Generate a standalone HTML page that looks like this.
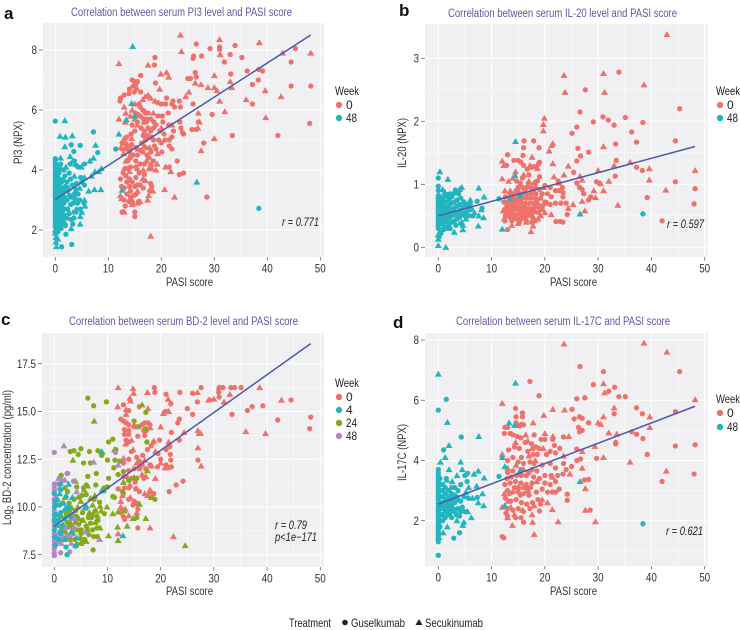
<!DOCTYPE html>
<html>
<head>
<meta charset="utf-8">
<title>Correlation between serum biomarkers and PASI score</title>
<style>
html,body{margin:0;padding:0;background:#fff;}
svg{display:block;filter:blur(0.3px);}
text{font-family:"Liberation Sans",sans-serif;fill:#333;}
.ttl{fill:#5b5aa6;font-size:11.5px;}
.axt{fill:#333;font-size:12px;}
.let{fill:#111;font-size:17px;font-weight:bold;}
.leg{fill:#222;font-size:12px;}
.stat{fill:#222;font-size:11.5px;font-style:italic;}
</style>
</head>
<body>
<svg id="fig" width="740" height="630" viewBox="0 0 740 630" xmlns="http://www.w3.org/2000/svg">
<text class="let" x="4" y="19">a</text>
<text class="let" x="399" y="16">b</text>
<text class="let" x="1" y="325">c</text>
<text class="let" x="393" y="328">d</text>

<text class="ttl" x="71" y="16" textLength="221" lengthAdjust="spacingAndGlyphs">Correlation between serum PI3 level and PASI score</text>
<text class="ttl" x="448" y="17" textLength="229" lengthAdjust="spacingAndGlyphs">Correlation between serum IL-20 level and PASI score</text>
<text class="ttl" x="69" y="325" textLength="229" lengthAdjust="spacingAndGlyphs">Correlation between serum BD-2 level and PASI score</text>
<text class="ttl" x="456" y="325" textLength="214" lengthAdjust="spacingAndGlyphs">Correlation between serum IL-17C and PASI score</text>

<text class="axt" x="166" y="286" textLength="47" lengthAdjust="spacingAndGlyphs">PASI score</text>
<text class="axt" x="550" y="286" textLength="47" lengthAdjust="spacingAndGlyphs">PASI score</text>
<text class="axt" x="166" y="595" textLength="47" lengthAdjust="spacingAndGlyphs">PASI score</text>
<text class="axt" x="550" y="595" textLength="47" lengthAdjust="spacingAndGlyphs">PASI score</text>

<text class="axt" transform="translate(22,164) rotate(-90)" textLength="43" lengthAdjust="spacingAndGlyphs">PI3 (NPX)</text>
<text class="axt" transform="translate(406,168) rotate(-90)" textLength="50" lengthAdjust="spacingAndGlyphs">IL-20 (NPX)</text>
<text class="axt" transform="translate(11,525) rotate(-90)" textLength="135" lengthAdjust="spacingAndGlyphs">Log<tspan font-size="8" dy="2">2</tspan><tspan dy="-2"> BD-2 concentration (pg/ml)</tspan></text>
<text class="axt" transform="translate(406,481) rotate(-90)" textLength="57" lengthAdjust="spacingAndGlyphs">IL-17C (NPX)</text>

<text class="stat" x="282" y="226" textLength="37" lengthAdjust="spacingAndGlyphs">r = 0.771</text>
<text class="stat" x="667" y="228" textLength="37" lengthAdjust="spacingAndGlyphs">r = 0.597</text>
<text class="stat" x="275" y="529" textLength="32" lengthAdjust="spacingAndGlyphs">r = 0.79</text>
<text class="stat" x="275" y="541" textLength="42" lengthAdjust="spacingAndGlyphs">p&lt;1e−171</text>
<text class="stat" x="666" y="535" textLength="37" lengthAdjust="spacingAndGlyphs">r = 0.621</text>

<text class="leg" x="335" y="95" textLength="24" lengthAdjust="spacingAndGlyphs">Week</text>
<circle cx="339" cy="105" r="3.2" fill="#EF716B"/>
<text class="leg" x="346" y="109">0</text>
<circle cx="339" cy="118" r="3.2" fill="#22B5C0"/>
<text class="leg" x="346" y="122" textLength="11" lengthAdjust="spacingAndGlyphs">48</text>

<text class="leg" x="716" y="95" textLength="24" lengthAdjust="spacingAndGlyphs">Week</text>
<circle cx="720" cy="105" r="3.2" fill="#EF716B"/>
<text class="leg" x="727" y="109">0</text>
<circle cx="720" cy="118" r="3.2" fill="#22B5C0"/>
<text class="leg" x="727" y="122" textLength="11" lengthAdjust="spacingAndGlyphs">48</text>

<text class="leg" x="335" y="387" textLength="24" lengthAdjust="spacingAndGlyphs">Week</text>
<circle cx="339" cy="397" r="3.2" fill="#EF716B"/>
<text class="leg" x="346" y="401">0</text>
<circle cx="339" cy="410" r="3.2" fill="#22B5C0"/>
<text class="leg" x="346" y="414">4</text>
<circle cx="339" cy="423" r="3.2" fill="#84A91C"/>
<text class="leg" x="346" y="427" textLength="11" lengthAdjust="spacingAndGlyphs">24</text>
<circle cx="339" cy="436" r="3.2" fill="#B488C4"/>
<text class="leg" x="346" y="440" textLength="11" lengthAdjust="spacingAndGlyphs">48</text>

<text class="leg" x="716" y="403" textLength="24" lengthAdjust="spacingAndGlyphs">Week</text>
<circle cx="720" cy="413" r="3.2" fill="#EF716B"/>
<text class="leg" x="727" y="417">0</text>
<circle cx="720" cy="427" r="3.2" fill="#22B5C0"/>
<text class="leg" x="727" y="431" textLength="11" lengthAdjust="spacingAndGlyphs">48</text>

<text class="leg" x="289" y="627" textLength="42" lengthAdjust="spacingAndGlyphs">Treatment</text>
<circle cx="345" cy="622.5" r="2.8" fill="#222"/>
<text class="leg" x="351" y="627" textLength="54" lengthAdjust="spacingAndGlyphs">Guselkumab</text>
<polygon points="419,619 415.5,625 422.5,625" fill="#222"/>
<text class="leg" x="425" y="627" textLength="58" lengthAdjust="spacingAndGlyphs">Secukinumab</text>
</svg>
<script>
const xTicks=[0,10,20,30,40,50];
const xMinor=[5,15,25,35,45];
const aYTicks=[2,4,6,8];
const aYMinor=[1,3,5,7];
const bYTicks=[0,1,2,3];
const bYMinor=[0.5,1.5,2.5];
const cYTicks=[7.5,10,12.5,15,17.5];
const cYTickLabels=["7.5","10.0","12.5","15.0","17.5"];
const cYMinor=[8.75,11.25,13.75,16.25];
const dYTicks=[2,4,6,8];
const dYMinor=[1,3,5,7];

const aFitX=[0,48.2];
const aFitY=[3.02,8.5];
const bFitX=[0,48.2];
const bFitY=[0.5,1.6];
const cFitX=[0,48.2];
const cFitY=[9,18.55];
const dFitX=[0,48.2];
const dFitY=[2.55,5.8];

const aWeek0Circle=[[26.6,8.2],[29.2,8.05],[31,8.1],[31,8.02],[33.9,8.15],[45.3,8.05],[33,7.85],[27.6,7.8],[35.2,7.75],[26,7.72],[26.1,7.8],[18.8,7.75],[31.9,7.6],[44.5,7.6],[18.7,7.5],[36.2,7.3],[38.4,7.35],[39.1,7.3],[26.4,7.25],[33.1,7.2],[25,7.05],[25.5,7.05],[26.6,7.1],[38.3,7],[37.2,6.85],[44.5,6.8],[48.2,6.8],[16.1,7.15],[14.5,7],[15,6.95],[15.5,6.95],[15.2,6.85],[18.9,6.9],[14.7,6.8],[14,6.7],[13.9,6.55],[16.1,6.6],[13,6.5],[12.3,6.4],[12.2,6.3],[37.2,6.2],[26,6.2],[23.4,6.3],[29.6,5.85],[48,5.55],[42,5.15],[33.4,5.15],[28,4.9],[16,6.1],[16.5,6],[17,5.9],[17.5,5.9],[16,5.8],[16.6,5.7],[17.2,5.6],[15.5,5.6],[14.5,5.5],[16.2,5.4],[16.8,5.3],[17.5,5.4],[18,5.3],[18.5,5.4],[19,5.5],[19.7,5.3],[20.3,5.6],[21.4,5.5],[21.3,5.9],[20.8,6.2],[20,6.2],[19.3,6.25],[21,6.4],[22,6.2],[22.2,6.3],[22.5,6.1],[23.6,6.1],[23.5,5.6],[22.3,5.3],[22,5.1],[21.5,4.8],[22,4.7],[21.5,5],[20,4.9],[20.7,5],[19.5,5],[18.5,5],[17.7,5.1],[17,5],[16.3,4.9],[15,5.3],[14.3,5.2],[13.5,5.1],[13,4.9],[12.6,4.7],[12.6,4.9],[13.4,4.7],[14,4.6],[14.7,4.5],[15.2,4.3],[15.5,4.5],[16.5,4.6],[17.3,4.5],[18,4.6],[19,4.7],[18.5,4.3],[17.7,4.4],[16.8,4.2],[16,4.2],[15.2,4.1],[14.2,4.1],[13.5,4.05],[12.8,3.9],[13.3,3.8],[14,3.7],[14.5,3.6],[13.5,3.6],[12.3,3.7],[12.5,3.45],[13,3.4],[14,3.45],[15,3.45],[15.5,3.5],[16,3.5],[16.6,3.4],[17.8,3.3],[18,3.55],[18.2,3.45],[15.3,3.2],[14.8,3.15],[14.2,3.1],[13.5,3.2],[13,3],[13.2,2.8],[14.6,2.9],[15.7,2.95],[15,2.6],[15,2.45],[12.8,2.6],[12.6,2.6],[21.5,4.1],[23.4,3.85],[24.2,3.9],[23,4.3],[28.6,3.1],[23.7,5.4],[24,5.25],[24.2,5.2],[25.8,5.35],[26.6,5.35],[27,5.6],[20.5,5.2],[15.3,6.7],[14.9,6.6],[15.8,6.2],[15.1,5.9],[15.6,5.85],[16.8,5.95],[17.3,5.7],[18,5.7],[18.6,5.6],[19.4,5.8],[20.2,5.8],[16.6,5.15],[17.4,5.15],[18.2,5.1],[14.4,4.85],[15.2,4.75],[16.1,4.65],[17,4.75],[18.7,4.8],[20.1,4.6],[14.1,4.4],[13.7,4.3],[15.8,3.9],[16.8,3.85],[14.2,3.3],[13.9,2.95],[15.2,3.75]];
const aWeek0Tri=[[23.6,8.5],[31,8.35],[38.5,8.25],[23.8,7.95],[42.9,7.9],[48.2,7.9],[31.1,7.85],[12,7.55],[17.5,7.5],[19.9,7.2],[21,7.25],[21.4,7.1],[30,7.15],[33,6.95],[33.3,6.75],[27.5,6.85],[28.8,6.75],[30,6.75],[30.5,6.65],[26.4,6.9],[25.2,6.6],[24.6,6.45],[39.6,6.65],[42.6,6.45],[36,6.35],[31,6.3],[32,5.95],[27,5.9],[19.7,6.7],[17.5,6.5],[18,6.4],[17,6.45],[18.8,6.3],[27.2,5.6],[39.7,5.75],[30,5.05],[27.5,4.65],[16.5,6.35],[15,6.2],[13,6.1],[14.5,6],[13.3,5.9],[14.2,5.8],[12,5.7],[13.2,5.6],[15,5.7],[15.5,5.5],[16.7,5.6],[18.5,5.9],[20,5.4],[22,5.5],[26.9,5.4],[13,5.05],[14.4,5.05],[13.6,4.85],[12.4,4.75],[14.2,4.75],[12.9,4.55],[14,4.45],[15.6,4.7],[16.8,4.8],[17.8,4.75],[19.3,4.55],[19.2,4.2],[18,4.2],[17.2,4.3],[15.5,4.05],[16.6,4],[17.7,4.05],[18.2,4.05],[19,4],[20.8,4.1],[21.8,3.95],[14,3.95],[13,4.05],[17,3.65],[18.4,3.3],[17.6,3.15],[20.6,3.35],[22.5,3.1],[17.4,3],[16,2.95],[14.5,3],[12.3,3.15],[12.5,3.05],[14.5,2.85],[15.6,2.9],[13,2.6],[18,1.8],[16.5,3.7],[15.5,3.3],[13.3,4.3]];
const aWeek48Circle=[[0,5.63],[7.2,5.27],[3,4.84],[4.7,4.82],[8,4.58],[3.5,4.62],[11.4,4.7],[0,4.38],[0,4.3],[0,4.2],[0,4.1],[0,4],[0,3.9],[0,3.8],[0,3.7],[0,3.6],[0,3.5],[0,3.4],[0,3.3],[0,3.2],[0,3.1],[0,3],[0,2.9],[0,2.8],[0,2.7],[0,2.6],[0,2.5],[0,2.4],[0,2.3],[0,2.2],[0,2.1],[0.3,4],[0.4,3.8],[0.3,3.6],[0.4,3.4],[0.3,3.2],[0.4,3],[0.3,2.8],[0.4,2.6],[0.3,2.4],[0.7,3.9],[0.8,3.7],[0.7,3.5],[0.8,3.3],[0.7,3.1],[0.8,2.9],[0.7,2.7],[0.8,2.5],[0.9,2.3],[1.2,3.6],[1.3,3.4],[1.2,3.2],[1.3,3],[1.2,2.8],[1.3,2.6],[1.2,2.4],[1.6,3.3],[1.7,3.1],[1.6,2.9],[1.7,2.7],[1.6,2.5],[2.2,3.6],[2.3,3.3],[2.2,3],[2.3,2.7],[2.2,2.4],[2,1.86],[1.1,2.05],[1.2,1.44],[3.1,1.52],[3,2.35],[3.5,2.4],[3.2,3.5],[3.6,3.2],[3.4,2.9],[3.9,2.6],[4,3.55],[4.3,3.2],[4.2,2.9],[4,4.15],[4.3,4.1],[3.6,4.3],[4.8,3.75],[5.5,3.5],[5.4,2.9],[5.5,4.2],[38.4,2.72],[5,3.6],[2.8,4.2],[1,4.2],[1.6,4],[2.6,3.9],[1.9,3.45],[2.7,3.15],[2.9,2.85],[2.6,2.55],[1.9,2.15],[1.4,2.2],[0.6,2.1],[0.5,1.95],[3.9,3.35],[3.7,3.05],[4.6,3],[4.7,2.7],[2.9,3.7],[1.8,3.8],[0.9,4.05],[3.3,2.2],[3.6,2.6],[0.2,1.9],[0.1,2.15]];
const aWeek48Tri=[[1.8,5.65],[0.9,5.13],[1.9,5.1],[3.2,5.14],[1.8,4.78],[7.6,4.83],[0.2,4.2],[2,4.1],[1,4.4],[2.8,4.45],[3.3,4.3],[3.8,4.2],[4.9,4.1],[6.5,4.3],[7.2,4.4],[8.7,4.05],[7.5,3.95],[8.2,3.95],[6.8,3.8],[5.5,3.75],[7.4,3.35],[8.6,3.35],[6.3,3.3],[5.5,3],[5.6,2.8],[4.7,2.45],[4.7,2.2],[3,2.05],[1.6,2.3],[0.2,1.45],[0.1,1.6],[0.1,1.75],[0,1.9],[0,2],[0.5,1.7],[0.4,2.05],[0.5,2.2],[1.1,2.25],[2.6,2.6],[3,3.1],[3.6,3.8],[2.5,3.4],[1.5,3.7],[0.5,4.05],[14.6,8.12],[12,5.2],[13.4,5.68],[14.4,6.22],[15,5.8],[12.6,3.33],[26.7,3.6],[4,2.7],[4.6,3.4],[5,2.6]];

const bWeek0Circle=[[33.9,2.78],[27.6,2.5],[26.6,2.15],[45.3,2.2],[30.9,2.07],[35.1,2.06],[31.9,2.02],[29.1,1.99],[33,1.94],[38.4,1.98],[26,1.91],[36.3,1.83],[25.1,1.81],[44.5,1.69],[37.2,1.67],[33.3,1.64],[26.2,1.57],[28.2,1.51],[26.7,1.45],[33.4,1.38],[26,1.37],[37.2,1.27],[38.3,1.22],[25.4,1.19],[33.2,1.13],[29.7,1.04],[30.2,1.02],[44.5,1.04],[48.2,0.93],[39.2,0.79],[48,0.69],[42,0.42],[26,1.02],[26.5,0.95],[27,0.92],[27.3,0.85],[28.6,0.8],[28.2,0.75],[24.2,0.52],[16.1,1.69],[17.9,1.69],[16,1.58],[18.9,1.58],[15.9,1.46],[13,1.47],[14.2,1.38],[15,1.38],[15.5,1.35],[16,1.3],[12.8,1.3],[17.5,1.27],[18,1.28],[18.8,1.32],[19,1.35],[16.7,1.24],[14.7,1.05],[15.8,1.1],[17,1.15],[19,1.12],[22.5,1.05],[23.3,0.95],[20,0.98],[21,0.95],[22,0.9],[22.7,0.9],[23.4,0.87],[19.5,0.85],[20.5,0.85],[21.2,0.8],[23.4,0.8],[24,0.7],[23,0.7],[22,0.7],[21,0.68],[20,0.72],[22.1,0.41],[22.9,0.41],[23.4,0.4],[13,0.28],[12.5,0.42],[12.6,0.5],[13.4,0.48],[14,0.45],[14.7,0.45],[15.5,0.45],[16.5,0.42],[17.5,0.4],[18.1,0.42],[12.4,0.6],[13.2,0.6],[14,0.6],[14.8,0.6],[15.6,0.58],[16.4,0.58],[17.2,0.56],[18,0.56],[18.8,0.55],[12.3,0.72],[13.1,0.72],[13.9,0.72],[14.7,0.72],[15.5,0.72],[16.3,0.7],[17.1,0.7],[17.9,0.7],[18.7,0.68],[19.5,0.6],[13.5,0.85],[14.3,0.85],[15.1,0.85],[15.9,0.85],[16.7,0.85],[17.5,0.85],[18.3,0.85],[19,0.92],[15,0.95],[15.8,0.95],[16.6,0.95],[17.4,0.95],[18.2,0.95],[12.7,0.52],[13.5,0.55],[14.3,0.52],[15.1,0.52],[15.9,0.52],[16.7,0.5],[17.5,0.5],[18.3,0.65],[12.9,0.65],[13.7,0.65],[14.5,0.65],[15.3,0.65],[16.1,0.65],[16.9,0.62],[17.7,0.62],[18.5,0.75],[19.2,0.78],[12.6,0.8],[13.4,0.78],[14.2,0.78],[15,0.78],[15.8,0.78],[16.6,0.78],[17.4,0.78],[18.2,0.78],[19.6,0.66],[19,0.62],[17.8,0.9],[16.2,0.9],[14.6,0.9],[16.9,1.02],[18.6,1.05],[15.4,1.02],[12.9,0.58],[13.8,0.42],[15.2,0.4],[16.2,0.47],[17.8,0.46]];
const bWeek0Tri=[[23.6,2.73],[31,2.76],[23.8,2.46],[31.2,2.46],[38.6,2.58],[42.9,3.38],[19.9,2.05],[19.7,1.95],[19.7,1.85],[21.5,1.65],[21.3,1.62],[20.8,1.53],[31,1.6],[17.6,1.43],[21.5,1.33],[24.4,1.29],[12,1.37],[12.3,1.3],[48.2,1.22],[39.6,1.25],[36,1.35],[33,1.3],[30,1.22],[21.7,1.12],[23.6,1.15],[26.6,1.13],[12,1.09],[13.2,1.05],[32,1.05],[39.6,1.07],[30.5,1.01],[27,1.07],[29.2,0.9],[31,0.9],[42.7,0.91],[27,0.73],[29.5,0.79],[27.5,0.58],[33.7,0.67],[25.3,0.68],[17.4,0.25],[17.8,0.34],[18,0.43],[21.2,0.52],[22.7,1.02],[16,1.15],[14.5,1.2],[13.5,0.9],[12.5,0.9],[17,1.05],[18,1.03],[19.8,0.95],[16.5,0.4],[15,0.38],[13.8,0.35],[19.2,0.5],[20,0.55],[24.4,0.62],[18.7,0.45],[17.2,1.3],[18.6,1.25],[14,1.1],[15.2,0.88],[20.5,0.7],[12.2,0.58],[12.4,0.46],[13,0.7],[14,0.7],[15,0.6],[16,0.6],[17,0.6],[18,0.6]];
const bWeek48Circle=[[0,1.1],[0,0.97],[0,0.9],[0,0.82],[0,0.78],[0,0.74],[0,0.7],[0,0.66],[0,0.62],[0,0.58],[0,0.54],[0,0.5],[0,0.46],[0,0.42],[0,0.38],[0,0.34],[0,0.3],[0.3,0.8],[0.3,0.74],[0.3,0.68],[0.3,0.62],[0.3,0.56],[0.3,0.5],[0.3,0.44],[0.3,0.38],[0.7,0.78],[0.7,0.7],[0.7,0.62],[0.7,0.54],[0.7,0.46],[0.7,0.38],[1.1,0.8],[1.1,0.72],[1.1,0.64],[1.1,0.56],[1.1,0.48],[1.1,0.4],[1.5,0.82],[1.5,0.72],[1.5,0.62],[1.5,0.52],[1.5,0.42],[1.5,0.32],[2,0.76],[2,0.66],[2,0.56],[2,0.46],[2,0.36],[2.5,0.8],[2.5,0.7],[2.5,0.6],[2.5,0.5],[2.5,0.4],[3,0.72],[3,0.62],[3,0.52],[3,0.42],[3.5,0.75],[3.5,0.65],[3.5,0.55],[3.5,0.45],[4,0.68],[4,0.58],[4,0.48],[4.5,0.62],[4.5,0.52],[5,0.65],[5,0.55],[5.5,0.68],[5.5,0.58],[7.3,0.73],[8.2,0.62],[11.4,0.77],[15.4,0.82],[38.4,0.53],[3.2,0.91],[6.2,0.6],[6.5,0.5],[4.2,0.78],[4.8,0.72],[3.8,0.85],[2.8,0.85],[1.9,0.84],[1,0.28],[0.5,0.22],[0.1,0.16],[2.2,0.3],[3.3,0.35],[4.2,0.38],[5.2,0.48],[5.8,0.5],[6,0.68]];
const bWeek48Tri=[[14.5,1.68],[26.6,0.53],[13.5,0.78],[14.4,1.14],[12,0.29],[0.3,1.2],[1.8,1.08],[7.6,0.94],[8.6,0.8],[8.5,0.47],[7.5,0.34],[0,0.03],[1.4,0],[4.4,0.95],[4,0.92],[3.3,0.87],[2.2,0.85],[1.2,0.88],[0.8,0.92],[4.6,0.28],[4.6,0.35],[3,0.24],[2.1,0.3],[0.3,0.25],[0,0.2],[0,0.13],[1,0.33],[7.6,0.5],[6.8,0.55],[6,0.75],[5.2,0.45],[4.4,0.4],[3.8,0.5],[4.8,0.72],[8.1,0.6],[2.7,0.6],[1.8,0.52],[1.2,0.62]];

const cWeek0Circle=[[18.8,16.25],[27.6,16.25],[31,16.25],[31.7,16.25],[33.2,16.25],[33.9,16.25],[35.1,16.25],[18.9,16],[23.6,16],[30.9,16],[26,15.95],[21,15.9],[31,15.75],[44.5,15.6],[29.2,15.6],[26.9,15.5],[21.9,15.4],[13,15.35],[39.2,15.3],[37.2,15.25],[16,15.25],[25,15.15],[14,15.05],[36.3,15.05],[21,15],[20.7,14.95],[26,14.85],[33.4,14.85],[48.2,14.7],[23.5,14.6],[23.2,14.4],[12.5,14.6],[42,14.55],[48,14.1],[13,14.5],[13.5,14.4],[14,14.3],[15,14.2],[15.5,14.2],[16.5,14.3],[17,14.4],[17.6,14.4],[18,14.3],[13.2,14.05],[14,14],[16.8,14],[17.3,14],[13.2,13.8],[14,13.8],[15.7,13.7],[17,13.75],[13.5,13.5],[14,13.4],[18.7,13.4],[19.8,13.5],[23.5,13.5],[22,13.9],[13,12.3],[14,12.5],[15.5,12.6],[16,12.4],[16.6,12.7],[17.5,13],[18.2,13.2],[19.5,12.8],[20,12.5],[21,12.2],[21.5,12.05],[22,12.1],[19.4,12.1],[18,12.2],[17.2,12],[16,12],[15,12],[14,11.9],[13.5,11.6],[13,11.6],[14.5,11.5],[15.5,11.5],[16.8,11.5],[21,13],[21.7,13.15],[21.8,12.75],[21.9,12.45],[27,12.45],[24.2,11.35],[22.9,11.15],[21.6,10.8],[12,10.95],[13.2,11],[14,11],[15.3,10.95],[16,10.8],[17.5,10.6],[18,10.8],[18.7,10.7],[13,10.7],[14,10.4],[15,10.3],[15.5,10.2],[14.8,10.1],[12.5,9.7],[13,9.5],[13.2,9.35],[15.7,9.9],[15.7,8.9],[12.8,9.8],[16.5,12.2],[15.2,11.3],[14.5,12.9]];
const cWeek0Tri=[[12,16.25],[14.8,16.2],[14.9,15.95],[17.5,16],[26.9,16],[38.6,16.25],[33,15.9],[31,16.25],[14.2,15.7],[21.4,15.65],[29,15.6],[30,15.65],[31.9,15.5],[42.7,15.6],[14.3,15.55],[11.9,15.25],[17.6,15.15],[13.5,15.1],[21.5,15],[20.5,14.9],[13.5,14.85],[36,13.95],[39.7,13.85],[27,14],[27.5,13.85],[27.2,13.85],[24.4,13.9],[20,14.2],[15,14.3],[18,14.15],[14.5,13.5],[13.4,13.3],[18.7,13.45],[21.5,13.4],[14.8,13],[27,13.1],[19,12.9],[13,12.55],[15.5,12.3],[16,12.1],[17,12.45],[18.3,12.15],[20,12.3],[27.6,12.15],[16.5,11.7],[17.2,11.6],[19,11.5],[20.8,12.05],[13,11.3],[14.2,11.15],[15.5,10.95],[17,10.7],[18,10.9],[12.8,10.6],[14.3,10.5],[15.2,10.2],[17.5,10.6],[18.5,10.5],[12.5,10],[13.3,9.9],[15.5,9.7],[14,9.55],[18,8.9],[12,8.6],[22.4,8.45],[12.5,10.3]];
const cWeek4Circle=[[2.4,7.5],[0.2,8],[0.8,8.3],[2.2,7.9],[4,7.95],[1.2,8.6],[0.3,9],[0.8,9.3],[1.2,9.7],[0.4,10.1],[1,10.1],[2.5,9.95],[2.8,9.95],[0,10],[0.2,10.3],[1.2,11.2],[1.2,10.9],[0,9.6],[0,9.3],[0,8.8],[0,8.4],[0,10.7],[3,9.5],[2,9.4]];
const cWeek4Tri=[[2.7,11.2],[3.4,10.5],[9,10.85],[1,10.7],[2.2,10.6],[0.6,10.4],[1.8,10.2],[6,10.05],[5.8,10],[2,9.9],[0.5,9.6],[1.6,9.1],[1.3,8.8],[4.2,8.4],[3.2,8.7],[2,8.3],[12.9,8.5],[8.9,12.9]];
const cWeek24Circle=[[6.3,15.7],[7.4,15.3],[9.8,15.5],[17.2,14.95],[15,14.5],[17.2,14.1],[15.9,14.2],[10.2,13.4],[11,13.55],[17.4,13.4],[3,12.9],[3.7,12.95],[5,13.05],[6.6,12.9],[8.2,12.95],[9,12.8],[4.5,12.75],[8.9,12.7],[5.5,12.3],[6.8,12.3],[10,12.45],[11.4,12.45],[11.6,13],[11.2,12.05],[12.3,12.4],[13,11.85],[7.9,11.75],[12,11.7],[2.5,11.75],[1.3,11.65],[6.3,11.6],[15.5,11.5],[10.2,11.5],[14,11.4],[7.8,11.15],[6,11.15],[5.5,11],[4.2,11.05],[9.4,11],[10,11.05],[2,11],[2.5,10.8],[5.2,10.6],[6,10.65],[3.7,10.4],[4.6,10.5],[11,10.55],[11.3,10.5],[12.8,10.8],[18.9,10.4],[7.5,10.4],[8.5,10.25],[2.8,10.2],[1.5,10.2],[2,9.8],[4,9.8],[5.3,9.7],[7.7,9.8],[9.4,9.65],[3.2,9.4],[4.2,9.5],[6.4,9.45],[8.2,9.3],[15.5,9.45],[2.4,9.2],[3.3,9],[4.6,9.1],[6,9],[7.2,8.8],[8,8.9],[2,8.7],[3.5,8.6],[5,8.6],[6.5,8.55],[1.7,8.3],[3,8.3],[4.3,8.05],[5.2,8.1],[7.4,8.45],[8.1,8.45],[7.3,7.75],[5,8.8],[2.3,9.6],[1.2,9.5],[1,9],[1.8,8.9],[2.9,9.75],[2.6,8.4],[3.9,8.3],[4.9,8.35],[5.7,8.3],[6.2,8.75],[4,9.2],[5.3,9.3],[6.8,9.15],[3.4,9.6],[7,9.45],[2.7,8.95],[4.4,8.8]];
const cWeek24Tri=[[16.5,15.35],[7.5,14.5],[3.5,12.45],[11.3,13],[13,11.3],[15,11.55],[17.5,11.9],[4,11.35],[5.6,10.9],[7.6,10.6],[9,10.9],[6.3,11.1],[6.8,10.45],[7.2,10.1],[5,10.3],[2,10.5],[3.3,9.95],[4.4,10],[5.8,9.95],[6.6,9.7],[7.3,9.65],[8.1,9.55],[8.8,9.8],[9.9,10],[11,9.65],[12,9.75],[13.2,9.8],[14.8,9.4],[16,10.15],[17.2,9.4],[18.2,10.5],[4.6,9.4],[5.4,9.3],[3,9.2],[2.4,8.55],[3.8,8.85],[6.1,9],[7.7,9.2],[8.6,8.9],[11.9,8.95],[13.7,9],[10.2,8.5],[12,8.25],[6,8.2],[4,8],[5,8.1],[24.6,7.98],[8.6,10.05],[9.3,10.9],[1.9,9.4]];
const cWeek48Circle=[[0,12.85],[0,11.2],[0,11],[0,10.8],[0,10.4],[0,10.2],[0,9.8],[0,9.4],[0,9.2],[0,9],[0,8.6],[0,8.2],[0,8],[0,7.8],[0,7.6],[0,7.45],[0.3,10.5],[0.3,9],[0.3,8.5],[0.7,11.2],[0.7,8.2],[1.2,7.6],[2.9,7.65],[11.5,12.85],[0.6,9.1],[1,8.7],[1.6,8.4],[2.2,8.9],[3,8.5],[3.7,8.9],[3.6,11.35],[1.4,11.4],[2.4,11.75]];
const cWeek48Tri=[[1.8,13.2],[7.4,12.35],[12,12.2],[3.2,9.6],[8.5,8.3],[2,11.4],[0.8,11.5],[1,11],[4.2,10.8],[3.8,9.4],[3.2,8.1],[5.8,8.7],[0.5,8.5],[1.3,8.1],[2.4,8.5]];

const dWeek0Circle=[[26.6,7.12],[31,6.95],[45.3,6.95],[17.2,6.62],[29.1,6.52],[33.1,6.43],[18.9,6.15],[26,6.05],[27.5,6.08],[33.9,6.12],[35.1,6.12],[32,6.3],[25.1,5.7],[14.5,5.73],[37.2,5.75],[38.3,5.55],[33,5.55],[44.5,5.62],[26.5,5.45],[27,5.4],[25.5,5.38],[28.2,5.25],[15.8,5.58],[15.8,5.45],[14.6,5.45],[14.6,5.25],[15.6,5.2],[16,5.18],[15.2,5.15],[13,5.1],[12.5,5.1],[26.3,5.1],[27,5],[26.5,4.95],[36.3,4.95],[37.2,4.87],[38.4,4.73],[33.3,4.6],[33.3,4.55],[44.5,4.48],[48.2,4.52],[39.2,4.2],[29.7,4.07],[26,4.38],[26.7,4.05],[26,4],[48,3.55],[42,3.3],[28.2,3.37],[27.4,3.35],[24.2,2.88],[24.2,2.68],[28.5,2.35],[12,1.47],[12.3,1.43],[19,2.32],[12.4,4.9],[13.5,4.9],[14,4.85],[14.8,4.8],[15.5,4.75],[18,4.85],[19.3,4.7],[20,4.7],[21.5,4.7],[23.5,4.78],[21.8,4.5],[22.8,4.4],[13.2,4.35],[14.3,4.45],[15.2,4.4],[16.8,4.3],[17.8,4.2],[18.6,4.2],[20.3,4.2],[21,4.3],[22,4.25],[13,4],[14,4.1],[15,3.95],[16,3.9],[17.2,3.95],[18,3.9],[19.5,3.85],[21,3.9],[22,3.75],[23.5,3.9],[25,3.8],[24,3.7],[13,3.6],[14,3.65],[15.5,3.7],[17,3.6],[18.5,3.65],[20,3.5],[21.2,3.5],[22.4,3.5],[23.4,3.55],[12.5,3.2],[13.5,3.25],[14.5,3.3],[15.5,3.25],[16.5,3.2],[17.6,3.25],[19,3.4],[20,3.25],[21,3.2],[22,3.3],[13,3],[14,2.95],[15,2.95],[16,2.9],[17,2.85],[18.4,2.95],[19.5,3.05],[20.5,2.95],[21.4,2.95],[22,2.95],[22.7,3.05],[12.6,2.75],[13.6,2.65],[14.6,2.7],[15.6,2.6],[16.6,2.55],[17.7,2.6],[18.7,2.7],[19.2,2.55],[13,2.4],[14,2.35],[15,2.4],[16,2.3],[17.2,2.4],[13,2.15],[14.5,2.1],[15.5,2.1],[16,1.95],[12.7,2.25],[16.5,3.5],[15.6,4.1],[14.7,3.5],[13.4,2.9],[17.6,3.7],[18.3,4.45],[15,3.1],[16,3.1],[13.7,3.45],[12.9,3.4],[14.3,3.1],[16.7,3.05],[15.4,2.85],[17.9,3.45],[16.3,4.6],[17.5,4.55],[18.9,4.4],[15.6,3.5],[17.3,3.1]];
const dWeek0Tri=[[23.6,7.87],[38.6,7.9],[42.9,7.6],[48.2,6.02],[31,6.55],[31.2,6.25],[12,5.9],[21.5,5.7],[23.7,5.68],[19.8,5.5],[33,5.75],[39.7,5.45],[31,5.45],[30,5.25],[30.5,5.2],[39.7,5.1],[17.8,5.25],[20,4.9],[24.5,4.8],[33.5,4.88],[32,4.92],[21.5,4.8],[29.4,4.47],[27,4.3],[31,4.1],[36,3.95],[27,3.75],[42.8,3.65],[27.6,3.07],[29.5,1.97],[22.5,1.97],[21.4,2.37],[27.6,2.35],[18,1.55],[13.9,1.85],[12,4.2],[14.5,4.6],[16.8,4.65],[17.6,4.4],[19.7,4.4],[23.5,4.15],[18.2,4],[16,3.7],[14.6,3.85],[13,3.75],[21.4,3.45],[24.7,3.55],[18.5,3.3],[16.8,3],[15,3.1],[12.4,2.9],[12,2.45],[13,2.1],[14.3,2.2],[15.8,2.35],[17.6,2.2],[17.7,1.95],[19.5,2.7],[18,2.5],[13.6,2.45],[13.1,2.65],[17,4.15],[16.4,4.85],[20.5,2.6]];
const dWeek48Circle=[[0,5.67],[1.5,6.03],[4.3,4.78],[1,4.35],[0,0.85],[38.4,1.9],[11.4,3.47],[2.9,1.42],[4,1.6],[7.3,2.77],[5.5,3.57],[0,3.7],[0,3.6],[0,3.5],[0,3.4],[0,3.3],[0,3.2],[0,3.1],[0,3],[0,2.9],[0,2.8],[0,2.7],[0,2.6],[0,2.5],[0,2.4],[0,2.3],[0,2.2],[0,2.1],[0,2],[0,1.9],[0,1.8],[0,1.7],[0,1.6],[0,1.5],[0,1.4],[0,1.3],[0.3,3.4],[0.3,3.2],[0.3,3],[0.3,2.8],[0.3,2.6],[0.3,2.4],[0.3,2.2],[0.3,2],[0.3,1.8],[0.8,3.2],[0.8,3],[0.8,2.8],[0.8,2.6],[0.8,2.4],[0.8,2.2],[0.8,2],[1.3,3.1],[1.3,2.9],[1.3,2.7],[1.3,2.5],[1.3,2.3],[1.3,2.1],[1.9,3],[1.9,2.8],[1.9,2.6],[1.9,2.4],[1.9,2.2],[2.5,3.1],[2.5,2.9],[2.5,2.7],[2.5,2.5],[2.5,2.3],[2.5,2.1],[3.1,3.1],[3.1,2.85],[3.1,2.6],[3.1,2.3],[3.7,3],[3.7,2.7],[3.7,2.4],[4.2,3.2],[4.2,2.65],[4.2,2.3],[4.8,2.8],[5,3.5],[5.4,3.3],[5.6,2.75],[1.5,3.4],[1.6,2.5],[2.2,2.65],[2.8,2.4],[3.4,2.2],[4,2.15],[2.2,2.25],[1.1,2.6],[0.6,2.5],[0.6,2.2],[1,2.4],[3.4,2.8],[2.8,2.75],[4.5,2.45],[5,2.3]];
const dWeek48Tri=[[0,6.87],[1.7,5.27],[14.5,6.57],[13.3,5.25],[14.3,5.17],[7.6,4.8],[2,4.5],[1.3,4.1],[0.4,3.95],[4.2,3.95],[12,4.1],[12.5,3.8],[15.3,3.65],[26.6,3.3],[7.5,3.65],[8.6,3.42],[6.7,3.55],[8.3,2.9],[7.5,2.6],[8.5,2.5],[6.2,2.1],[5.5,2.3],[12.5,2.5],[2,3.7],[4.5,3.7],[3.5,3.5],[1.6,3.35],[2.6,3.3],[7.2,3.15],[5.2,2.95],[4.8,1.95],[4.6,1.85],[3.5,2],[1.7,1.8],[0.9,1.6],[0.1,1.45],[6.4,2.75],[5.7,3.1]];

const NS='http://www.w3.org/2000/svg';
const svg=document.getElementById('fig');
const RED='#EF716B',TEAL='#22B5C0',OLIVE='#84A91C',PURPLE='#B488C4';

function mk(parent,tag,attrs){
  const el=document.createElementNS(NS,tag);
  for(const k in attrs){el.setAttribute(k,attrs[k]);}
  parent.appendChild(el);
  return el;
}
function linear(v0,p0,v1,p1){
  return function(v){return p0+(v-v0)*(p1-p0)/(v1-v0);};
}
function labelWidth(s){
  let w=0;
  for(const ch of String(s)){w+=(ch==='.')?2.6:5.5;}
  return w;
}
function drawPanel(id,box,xs,ys,yTicks,yLabels,yMinor,series,fitX,fitY){
  const g=mk(svg,'g',{});
  
  
  const bg=mk(g,'rect',{x:box.x0,y:box.y0,width:box.x1-box.x0,height:box.y1-box.y0,fill:'#f0f0f2'});
  
  
  xMinor.forEach(function(v){
    const l=mk(g,'line',{x1:xs(v),x2:xs(v),y1:box.y0,y2:box.y1,stroke:'#fff','stroke-width':0.5});
    
    
  });
  yMinor.forEach(function(v){
    const l=mk(g,'line',{x1:box.x0,x2:box.x1,y1:ys(v),y2:ys(v),stroke:'#fff','stroke-width':0.5});
    
    
  });
  xTicks.forEach(function(v){
    const l=mk(g,'line',{x1:xs(v),x2:xs(v),y1:box.y0,y2:box.y1,stroke:'#fff','stroke-width':1});
    
    
    const t=mk(g,'line',{x1:xs(v),x2:xs(v),y1:box.y1,y2:box.y1+3.5,stroke:'#555','stroke-width':0.7});
    
    
    const txt=mk(g,'text',{x:xs(v),y:box.y1+15.5,'text-anchor':'middle','font-size':12,textLength:labelWidth(v),lengthAdjust:'spacingAndGlyphs'});
    
    
    txt.textContent=String(v);
  });
  yTicks.forEach(function(v,i){
    const l=mk(g,'line',{x1:box.x0,x2:box.x1,y1:ys(v),y2:ys(v),stroke:'#fff','stroke-width':1});
    
    
    const t=mk(g,'line',{x1:box.x0-4,x2:box.x0,y1:ys(v),y2:ys(v),stroke:'#555','stroke-width':0.7});
    
    
    const txt=mk(g,'text',{x:box.x0-6,y:ys(v)+4.2,'text-anchor':'end','font-size':12,textLength:labelWidth(yLabels[i]),lengthAdjust:'spacingAndGlyphs'});
    
    
    txt.textContent=String(yLabels[i]);
  });
  series.forEach(function(s){
    s.points.forEach(function(p){
      const cx=xs(p[0]),cy=ys(p[1]);
      let m;
      if(s.shape==='circle'){
        m=mk(g,'circle',{cx:cx,cy:cy,r:2.65,fill:s.color});
      }else{
        m=mk(g,'polygon',{points:cx+','+(cy-3.4)+' '+(cx-3.5)+','+(cy+2.6)+' '+(cx+3.5)+','+(cy+2.6),fill:s.color});
      }
      
      
    });
  });
  const fit=mk(g,'line',{x1:xs(fitX[0]),y1:ys(fitY[0]),x2:xs(fitX[1]),y2:ys(fitY[1]),stroke:'#4A5BAE','stroke-width':1.5});
  
  
}
const staticNodes=Array.from(svg.children);

drawPanel('a',{x0:43,x1:324,y0:23,y1:257},linear(0,55.3,50,320.3),linear(2,230,8,50),aYTicks,aYTicks,aYMinor,[
  {points:aWeek0Circle,shape:'circle',color:RED},
  {points:aWeek0Tri,shape:'tri',color:RED},
  {points:aWeek48Circle,shape:'circle',color:TEAL},
  {points:aWeek48Tri,shape:'tri',color:TEAL}
],aFitX,aFitY);
drawPanel('b',{x0:425,x1:708,y0:24,y1:257},linear(0,438.3,50,704.7),linear(0,247.3,3,58.3),bYTicks,bYTicks,bYMinor,[
  {points:bWeek0Circle,shape:'circle',color:RED},
  {points:bWeek0Tri,shape:'tri',color:RED},
  {points:bWeek48Circle,shape:'circle',color:TEAL},
  {points:bWeek48Tri,shape:'tri',color:TEAL}
],bFitX,bFitY);
drawPanel('c',{x0:42,x1:324,y0:333,y1:567},linear(0,54.3,50,320.3),linear(7.5,554.7,17.5,363.7),cYTicks,cYTickLabels,cYMinor,[
  {points:cWeek0Circle,shape:'circle',color:RED},
  {points:cWeek0Tri,shape:'tri',color:RED},
  {points:cWeek24Circle,shape:'circle',color:OLIVE},
  {points:cWeek24Tri,shape:'tri',color:OLIVE},
  {points:cWeek48Circle,shape:'circle',color:PURPLE},
  {points:cWeek48Tri,shape:'tri',color:PURPLE},
  {points:cWeek4Circle,shape:'circle',color:TEAL},
  {points:cWeek4Tri,shape:'tri',color:TEAL}
],cFitX,cFitY);
drawPanel('d',{x0:425,x1:708,y0:333,y1:566},linear(0,438.3,50,704.7),linear(2,520.7,8,340),dYTicks,dYTicks,dYMinor,[
  {points:dWeek0Circle,shape:'circle',color:RED},
  {points:dWeek0Tri,shape:'tri',color:RED},
  {points:dWeek48Circle,shape:'circle',color:TEAL},
  {points:dWeek48Tri,shape:'tri',color:TEAL}
],dFitX,dFitY);
staticNodes.forEach(function(n){svg.appendChild(n);});
</script>
</body>
</html>
